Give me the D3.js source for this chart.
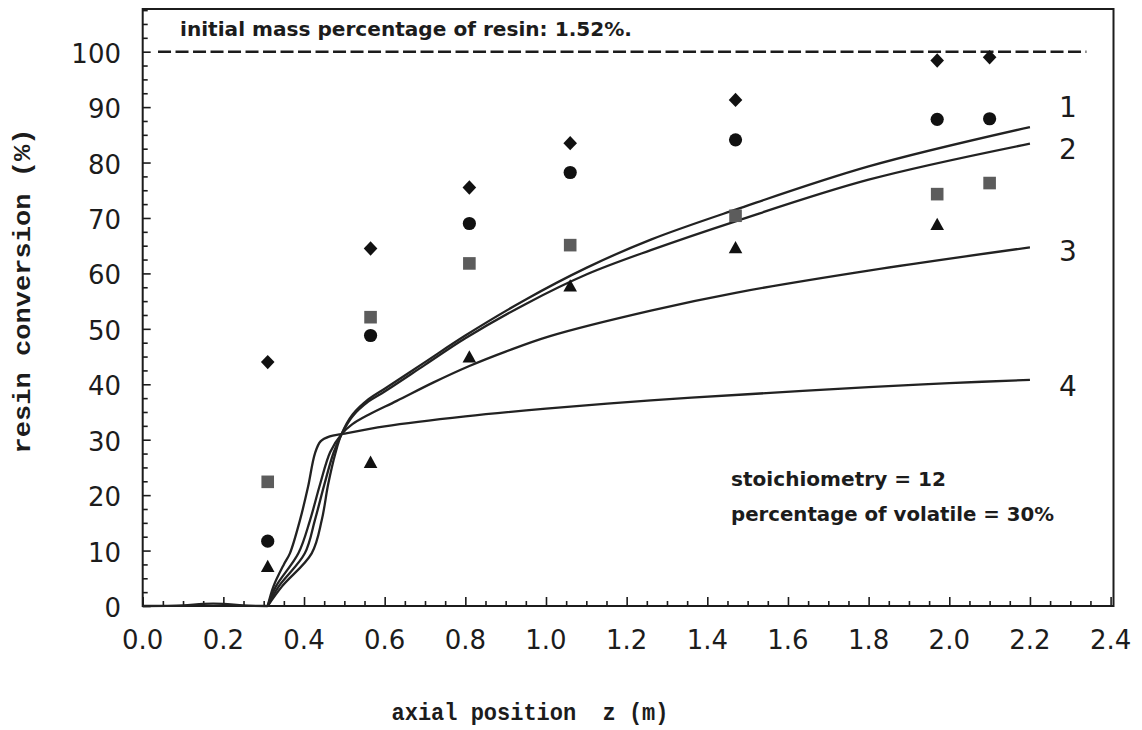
<!DOCTYPE html>
<html><head><meta charset="utf-8">
<script src="https://cdn.jsdelivr.net/npm/d3@7"></script>
<style>body{margin:0;background:#fff}svg{display:block}</style>
</head><body>
<svg id="c" width="1142" height="730"></svg>
<script>
// ---- data ----
const zPos = [0.31, 0.565, 0.81, 1.06, 1.47, 1.97, 2.10];
const diamondVals = [44.0, 64.5, 75.5, 83.5, 91.3, 98.4, 99.0];
const circleVals = [11.7, 48.8, 69.0, 78.2, 84.1, 87.8, 87.9];
const squareVals = [22.4, 52.1, 61.8, 65.1, 70.4, 74.3, 76.3];
const triangleVals = [7.2, 26.0, 45.0, 57.8, 64.7, 68.9, null];

const baseZ = [0, 0.1, 0.15, 0.2, 0.25, 0.31];
const baseV = [0, 0.1, 0.4, 0.4, 0.1, 0];

const curve1Z = [0.31, 0.345, 0.419, 0.444, 0.46, 0.478, 0.493, 0.52, 0.56, 0.6, 0.7, 0.8, 0.95, 1.1, 1.26, 1.47, 1.8, 2.2];
const curve1V = [0, 3.5, 9.5, 15.5, 22.0, 27.6, 31.0, 34.5, 37.3, 39.2, 44.0, 48.8, 55.3, 61.0, 66.1, 71.5, 79.3, 86.4];
const curve2Z = [0.31, 0.337, 0.402, 0.427, 0.45, 0.473, 0.493, 0.52, 0.56, 0.6, 0.7, 0.8, 0.95, 1.1, 1.26, 1.47, 1.8, 2.2];
const curve2V = [0, 3.5, 9.5, 15.5, 21.8, 27.6, 31.0, 34.2, 36.9, 38.7, 43.5, 48.3, 54.5, 59.8, 64.2, 69.4, 76.9, 83.4];
const curve3Z = [0.31, 0.33, 0.386, 0.415, 0.44, 0.465, 0.493, 0.52, 0.56, 0.63, 0.72, 0.81, 0.9, 1.01, 1.26, 1.47, 1.8, 2.2];
const curve3V = [0, 3.5, 9.5, 15.5, 22.0, 27.8, 31.0, 32.8, 34.5, 37.0, 40.3, 43.3, 45.9, 48.7, 53.3, 56.5, 60.5, 64.7];
const curve4Z = [0.31, 0.324, 0.35, 0.365, 0.39, 0.41, 0.427, 0.441, 0.464, 0.493, 0.6, 0.8, 1.0, 1.26, 1.5, 1.8, 2.0, 2.2];
const curve4V = [0, 3.5, 7.5, 9.5, 15.5, 21.5, 27.5, 29.7, 30.6, 31.0, 32.4, 34.2, 35.6, 37.1, 38.2, 39.5, 40.2, 40.8];
const curveLabels = ["1", "2", "3", "4"];

const xTicks = [0, 0.2, 0.4, 0.6, 0.8, 1.0, 1.2, 1.4, 1.6, 1.8, 2.0, 2.2, 2.4];
const yTicks = [0, 10, 20, 30, 40, 50, 60, 70, 80, 90, 100];
const refLevel = 100;
const refRange = [0.038, 2.34];
const topNote = "initial mass percentage of resin: 1.52%.";
const noteLines = ["stoichiometry = 12", "percentage of volatile = 30%"];
const xTitle = "axial position  z (m)";
const yTitle = "resin conversion (%)";

// ---- layout ----
const svg = d3.select("#c");
const x = d3.scaleLinear().domain([0, 2.4]).range([142.7, 1110.6]);
const y = d3.scaleLinear().domain([0, 107.5]).range([606, 10.1]);
const ink = "#1c1c1c";

// minor/major ticks (inward)
const xMinor = d3.range(0, 2.4001, 0.05);
const yMinor = d3.range(0, 107.51, 2.5);
const xAxis = d3.axisTop(x).tickValues(xMinor).tickSize(4).tickFormat("");
const gx = svg.append("g").attr("transform", "translate(0,606)").call(xAxis);
gx.selectAll(".tick line").attr("y2", d => (Math.abs(d / 0.2 - Math.round(d / 0.2)) < 1e-6 ? -9 : -5));
const yAxis = d3.axisRight(y).tickValues(yMinor).tickSize(4).tickFormat("");
const gy = svg.append("g").attr("transform", "translate(142.7,0)").call(yAxis);
gy.selectAll(".tick line").attr("x2", d => (Math.abs(d / 10 - Math.round(d / 10)) < 1e-6 ? 8 : 5));
[gx, gy].forEach(g => { g.select(".domain").remove(); g.selectAll("line").attr("stroke", ink).attr("stroke-width", 1.6); });

// frame
svg.append("rect").attr("x", 142.7).attr("y", 9).attr("width", 1113.5 - 142.7).attr("height", 606 - 9)
  .attr("fill", "none").attr("stroke", ink).attr("stroke-width", 2);

// tick labels
svg.append("g").selectAll("text").data(xTicks).join("text")
  .attr("x", d => x(d)).attr("y", 649).attr("text-anchor", "middle")
  .attr("font-family", "DejaVu Sans").attr("font-size", 26).attr("fill", ink)
  .text(d => d.toFixed(1));
svg.append("g").selectAll("text").data(yTicks).join("text")
  .attr("x", 121).attr("y", d => y(d) + 11).attr("text-anchor", "end")
  .attr("font-family", "DejaVu Sans").attr("font-size", 26).attr("fill", ink)
  .text(d => d);

// axis titles
svg.append("text").attr("x", 530).attr("y", 720).attr("text-anchor", "middle")
  .attr("font-family", "Liberation Mono").attr("font-weight", "bold").attr("font-size", 24)
  .attr("textLength", 277).attr("lengthAdjust", "spacingAndGlyphs").attr("fill", ink)
  .attr("xml:space", "preserve").style("white-space", "pre").text(xTitle);
svg.append("text").attr("transform", "translate(30,291) rotate(-90)").attr("text-anchor", "middle")
  .attr("font-family", "Liberation Mono").attr("font-weight", "bold").attr("font-size", 24)
  .attr("textLength", 325).attr("lengthAdjust", "spacingAndGlyphs").attr("fill", ink).text(yTitle);

// reference dashed line
svg.append("line").attr("x1", x(refRange[0])).attr("x2", x(refRange[1]))
  .attr("y1", y(refLevel)).attr("y2", y(refLevel))
  .attr("stroke", ink).attr("stroke-width", 2.5).attr("stroke-dasharray", "13,4.5");

// notes
svg.append("text").attr("x", 180).attr("y", 36)
  .attr("font-family", "DejaVu Sans").attr("font-weight", "bold").attr("font-size", 19)
  .attr("textLength", 452).attr("lengthAdjust", "spacingAndGlyphs").attr("fill", ink).text(topNote);
const noteLens = [215, 323];
noteLines.forEach((t, i) => {
  svg.append("text").attr("x", 731).attr("y", 486 + i * 35)
    .attr("font-family", "DejaVu Sans").attr("font-weight", "bold").attr("font-size", 19)
    .attr("textLength", noteLens[i]).attr("lengthAdjust", "spacingAndGlyphs").attr("fill", ink).text(t);
});

// curves
const line = d3.line().x(d => x(d[0])).y(d => y(d[1])).curve(d3.curveCatmullRom.alpha(0.5));
const curves = [[curve1Z, curve1V], [curve2Z, curve2V], [curve3Z, curve3V], [curve4Z, curve4V], [baseZ, baseV]];
svg.append("g").selectAll("path").data(curves).join("path")
  .attr("d", c => line(c[0].map((z, i) => [z, c[1][i]])))
  .attr("fill", "none").attr("stroke", "#222").attr("stroke-width", 2.3).attr("stroke-linejoin", "round");

// curve labels
const lastVals = [curve1V, curve2V, curve3V, curve4V].map(v => v[v.length - 1]);
const labelOffsets = [-20, 5, 4, 6];
svg.append("g").selectAll("text").data(curveLabels).join("text")
  .attr("x", x(2.2) + 38).attr("y", (d, i) => y(lastVals[i]) + labelOffsets[i] + 10)
  .attr("text-anchor", "middle").attr("font-family", "DejaVu Sans").attr("font-size", 28).attr("fill", ink)
  .text(d => d);

// markers
const mk = svg.append("g");
const pts = (vals) => zPos.map((z, i) => [z, vals[i]]).filter(d => d[1] != null);
mk.selectAll(".dia").data(pts(diamondVals)).join("path").attr("class", "dia")
  .attr("transform", d => `translate(${x(d[0])},${y(d[1])})`)
  .attr("d", "M0,-7.2L6.8,0L0,7.2L-6.8,0Z").attr("fill", "#111");
mk.selectAll(".cir").data(pts(circleVals)).join("circle").attr("class", "cir")
  .attr("cx", d => x(d[0])).attr("cy", d => y(d[1])).attr("r", 6.6).attr("fill", "#111");
mk.selectAll(".sq").data(pts(squareVals)).join("rect").attr("class", "sq")
  .attr("x", d => x(d[0]) - 6.3).attr("y", d => y(d[1]) - 6.3).attr("width", 12.6).attr("height", 12.6)
  .attr("fill", "#5c5c5c");
mk.selectAll(".tri").data(pts(triangleVals)).join("path").attr("class", "tri")
  .attr("transform", d => `translate(${x(d[0])},${y(d[1])})`)
  .attr("d", "M0,-6.3L6.8,6L-6.8,6Z").attr("fill", "#111");
</script>
</body></html>
